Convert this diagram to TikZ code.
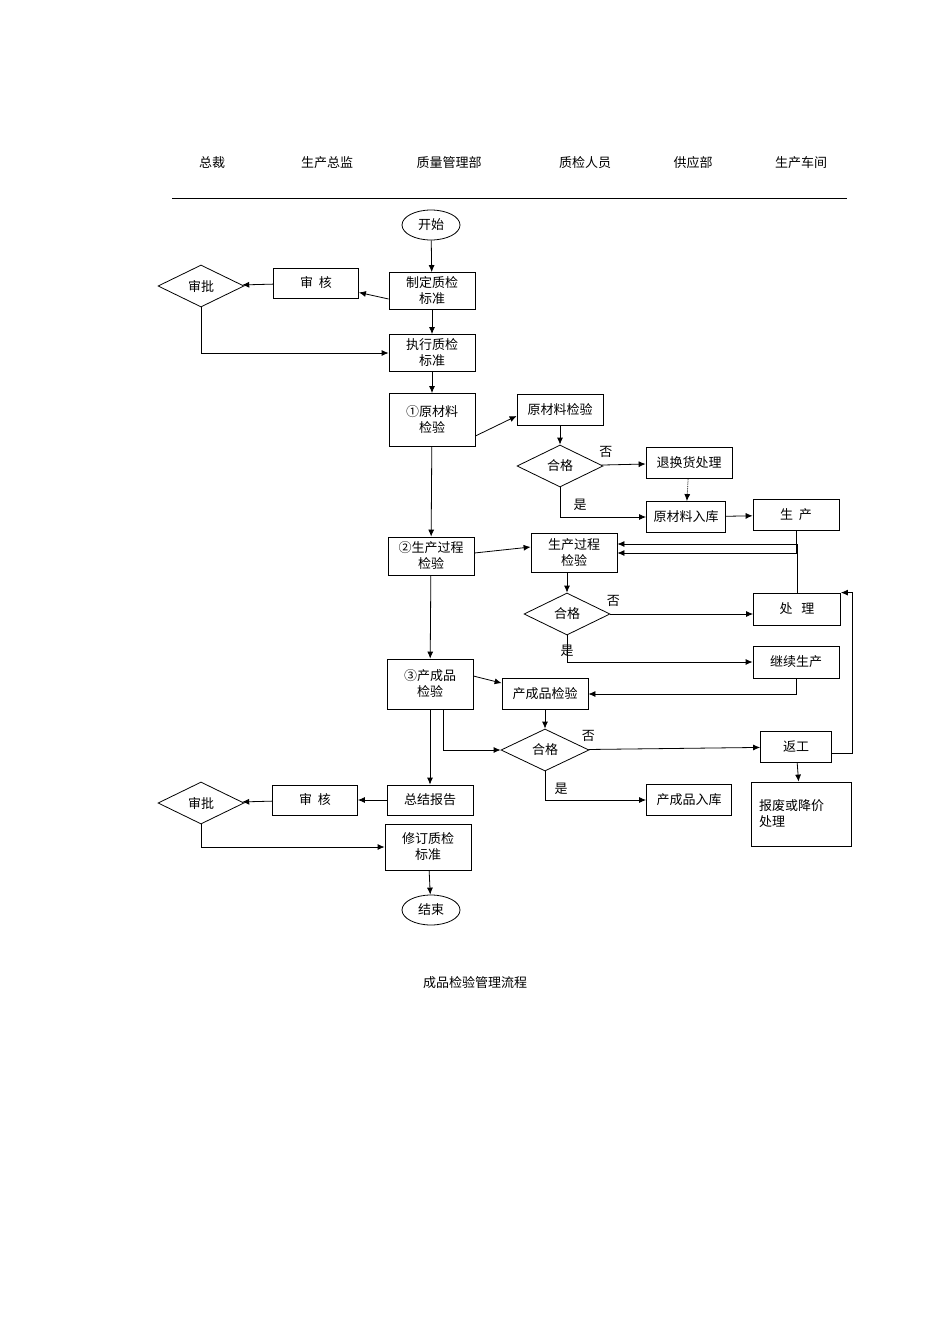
\documentclass[tikz,border=0pt]{standalone}
\usepackage{fontspec}
\setmainfont{Noto Sans CJK SC}
\usetikzlibrary{shapes,arrows.meta,positioning}
\tikzset{
	box/.style={draw,thick,inner sep=0,minimum width=86pt,minimum height=31pt,align=center,font=\fontsize{13}{16}\selectfont},
	tall/.style={box,minimum height=37pt},
	chk/.style={diamond,draw,thick,inner sep=0,minimum width=86pt,minimum height=42pt,aspect=2,font=\fontsize{13}{16}\selectfont},
	term/.style={ellipse,draw,thick,inner sep=0,minimum width=58pt,minimum height=30pt,font=\fontsize{13}{16}\selectfont},
	lab/.style={font=\fontsize{13}{16}\selectfont},
	diredge/.style={->,>={Latex[width=6pt,length=7pt]},thick}
}
\begin{document}
\begin{tikzpicture}[x=1pt,y=-1pt]
	\useasboundingbox (0,0) rectangle (950,1344);
	%%% header
	\node[lab] (h1) at (212,163) {总裁};
	\node[lab] (h2) at (327,163) {生产总监};
	\node[lab] (h3) at (449,163) {质量管理部};
	\node[lab] (h4) at (585,163) {质检人员};
	\node[lab] (h5) at (693,163) {供应部};
	\node[lab] (h6) at (801,163) {生产车间};
	\coordinate (l1) at (172,198);
	\coordinate (l2) at (847,198);
	\draw[thick] (l1) -- (l2);

	%%% standard
	\node[term] (start) at (431,225) {开始};
	\node[tall] (std) at (432,291) {制定质检\\标准};
	\node[box,minimum width=85pt,minimum height=30pt] (rev1) at (316,283) {审\ \ 核};
	\node[chk] (app1) at (201,286) {审批};
	\node[tall] (exe) at (432,353) {执行质检\\标准};
	\draw[diredge] (start) -- (std);
	\draw[diredge] ([yshift=-8pt]std.west) -- (rev1);
	\draw[diredge] (rev1) -- (app1);
	\draw[diredge] (std) -- (exe);
	\draw[diredge] (app1.south) |- (exe.west);

	%%% raw material
	\node[box,minimum height=53pt] (raw) at (432,420) {①原材料\\检验};
	\node[box] (rawc) at (560,410) {原材料检验};
	\node[chk] (ok1) at (560,466) {合格};
	\node[box] (ret) at (689,463) {退换货处理};
	\node[box,minimum width=79pt] (stock) at (686,517) {原材料入库};
	\node[box] (prod) at (796,515) {生\ \ 产};
	\draw[diredge] (exe) -- (raw);
	\draw[diredge] ([yshift=-16pt]raw.east) -- ([yshift=-6pt]rawc.west);
	\draw[diredge] (rawc) -- (ok1);
	\draw[diredge] (ok1) -- node[lab,above=4pt,pos=0.1] {否} (ret);
	\draw[diredge,densely dotted] (ret) -- (stock);
	\draw[diredge] (ok1.south) |- node[lab,pos=0.3,right=10pt] {是} (stock.west);
	\draw[diredge] (stock) -- (prod);

	%%% process
	\node[box,minimum height=38pt] (proc) at (431,556) {②生产过程\\检验};
	\node[box,minimum height=39pt] (procc) at (574,553) {生产过程\\检验};
	\node[chk] (ok2) at (567,614) {合格};
	\node[box,minimum width=87pt,minimum height=32pt] (fix) at (797,609) {处\ \ \ 理};
	\node[box,minimum height=32pt] (cont) at (796,662) {继续生产};
	\draw[diredge] (raw) -- (proc);
	\draw[diredge] ([yshift=3pt]proc.east) -- ([yshift=6pt]procc.west);
	\draw[diredge] (prod.south) |- (procc.east);
	\draw[diredge] (fix.north) |- ([yshift=9pt]procc.east);
	\draw[diredge] (procc.south -| ok2) -- (ok2);
	\draw[diredge] (ok2) -- node[lab,above=4pt,pos=0.02] {否} (fix.west |- ok2);
	\draw[diredge] (ok2.south) |- node[lab,pos=0.5,above=2pt] {是} (cont.west);

	%%% product
	\node[box,minimum height=50pt] (prd) at (430,684) {③产成品\\检验};
	\node[box] (prdc) at (545,694) {产成品检验};
	\node[chk,minimum width=88pt] (ok3) at (545,750) {合格};
	\node[box,minimum width=71pt] (redo) at (796,747) {返工};
	\node[box,minimum width=100pt,minimum height=64pt,align=left,text width=84pt] (waste) at (801,814) {报废或降价\\处理};
	\node[box,minimum width=85pt] (fin) at (689,800) {产成品入库};
	\draw[diredge] (proc) -- (prd);
	\draw[diredge] ([yshift=8pt]prd.east) -- (prdc);
	\draw[diredge] (cont.south) |- (prdc.east);
	\draw[diredge] (prdc) -- (ok3);
	\draw[diredge] ([xshift=13pt]prd.south) |- (ok3.west);
	\draw[diredge] (ok3) -- node[lab,above=4pt,pos=0.0] {否} (redo);
	\draw[diredge] (redo) -- (waste);
	\draw[diredge] ([yshift=-6pt]redo.east) -| ([xshift=11pt]fix.north east) -- (fix.north east);
	\draw[diredge] (ok3.south) |- node[lab,pos=0.3,right=6pt] {是} (fin.west);

	%%% report
	\node[box,minimum height=30pt] (rep) at (430,800) {总结报告};
	\node[box,minimum width=85pt,minimum height=30pt] (rev2) at (315,800) {审\ \ 核};
	\node[chk] (app2) at (201,803) {审批};
	\node[box,minimum height=46pt] (mod) at (428,847) {修订质检\\标准};
	\node[term] (stop) at (431,910) {结束};
	\draw[diredge] (prd) -- (rep);
	\draw[diredge] (rep) -- (rev2);
	\draw[diredge] (rev2) -- (app2);
	\draw[diredge] (app2.south) |- (mod.west);
	\draw[diredge] (mod) -- (stop);

	\node[lab] (title) at (475,983) {成品检验管理流程};
\end{tikzpicture}
\end{document}
